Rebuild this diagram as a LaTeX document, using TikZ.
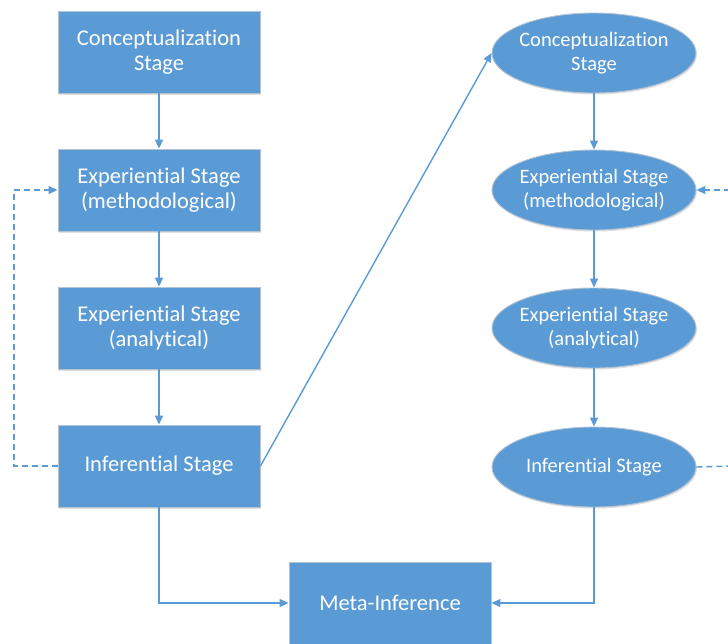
\documentclass[tikz,border=0pt]{standalone}
\usepackage{fontspec}
\setmainfont[Ligatures=NoCommon]{Carlito}
\usetikzlibrary{arrows.meta,shapes.geometric,shadows}
\definecolor{stageblue}{HTML}{5B9BD5}
\definecolor{stageedge}{HTML}{B4C3D2}
\tikzset{
  stagebox/.style={rectangle, fill=stageblue, draw=stageedge, line width=0.9pt,
    minimum width=202pt, minimum height=82pt, inner sep=0pt, align=center,
    text=white, font=\fontsize{22.5}{25}\selectfont,
    drop shadow={shadow xshift=1pt, shadow yshift=-1.5pt, fill=black, opacity=0.12}},
  stageoval/.style={ellipse, fill=stageblue, draw=stageedge, line width=0.9pt,
    minimum width=204pt, minimum height=80pt, inner xsep=-8pt, inner ysep=0pt, align=center,
    text=white, font=\fontsize{20.5}{24}\selectfont,
    drop shadow={shadow xshift=1pt, shadow yshift=-1.5pt, fill=black, opacity=0.12}},
  flow/.style={draw=stageblue, line width=1.4pt, -{Triangle[length=9pt,width=8pt]}},
  feedback/.style={draw=stageblue, line width=1.4pt, dash pattern=on 6pt off 4pt},
}
\begin{document}
\begin{tikzpicture}[x=1pt,y=-1pt]
\useasboundingbox (0,0) rectangle (728,643);

% left column: rectangular stages
\node[stagebox] (c1) at (159,52)  {Conceptualization\\Stage};
\node[stagebox] (x1) at (159,190) {Experiential Stage\\(methodological)};
\node[stagebox] (a1) at (159,328) {Experiential Stage\\(analytical)};
\node[stagebox] (i1) at (159,466) {Inferential Stage};

% right column: elliptical stages
\node[stageoval] (c2) at (594,53)  {Conceptualization\\Stage};
\node[stageoval] (x2) at (594,190) {Experiential Stage\\(methodological)};
\node[stageoval] (a2) at (594,328) {Experiential Stage\\(analytical)};
\node[stageoval] (i2) at (594,467) {Inferential Stage};

% meta-inference
\node[stagebox] (m) at (390,603) {Meta-Inference};

% free ends of the right feedback loop
\coordinate (rtop) at (730,190);
\coordinate (rbot) at (730,466);

% main flow
\draw[flow] (c1) -- (x1);
\draw[flow] (x1) -- (a1);
\draw[flow] (a1) -- (i1);
\draw[flow] (c2) -- (x2);
\draw[flow] (x2) -- (a2);
\draw[flow] (a2) -- (i2);
\draw[flow] (i1.east) -- (c2.west);
\draw[flow] (i1.south) |- (m.west);
\draw[flow] (i2.south) |- (m.east);

% feedback loops
\draw[feedback, -{Triangle[length=9pt,width=8pt]}] (i1.west) -- (14,466) -- (14,190) -- (x1.west);
\draw[feedback] (i2.east) -- (rbot);
\draw[feedback, -{Triangle[length=9pt,width=8pt]}] (rtop) -- (x2.east);
\end{tikzpicture}
\end{document}
